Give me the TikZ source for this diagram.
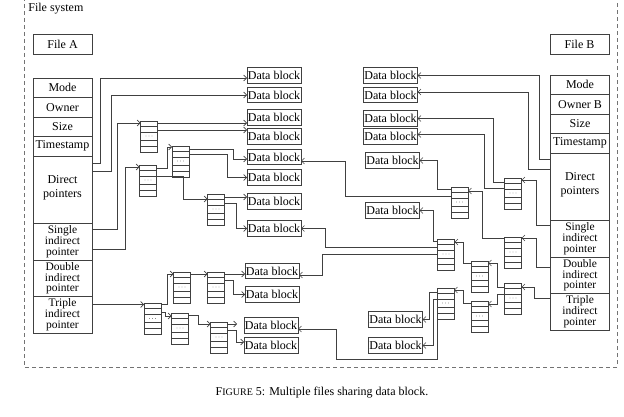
\documentclass[tikz,border=0pt]{standalone}
\usepackage{fontspec}
\setmainfont{Liberation Serif}
\usetikzlibrary{arrows.meta, positioning}

\begin{document}
\begin{tikzpicture}[
        x=1pt, y=-1pt,
        font=\fontsize{12}{12}\selectfont,
        every node/.style={outer sep=0pt},
        field/.style={
            rectangle,
            draw=black!75,
            line width=0.8pt,
            minimum width=59pt,
            minimum height=19.5pt,
            inner sep=1pt,
            align=center
        },
        tight/.style={
            font=\fontsize{11.5}{10.9}\selectfont
        },
        filebox/.style={
            rectangle,
            draw=black!75,
            line width=0.8pt,
            minimum width=59pt,
            minimum height=20pt
        },
        dblock/.style={
            rectangle,
            draw=black!75,
            line width=0.7pt,
            minimum width=54pt,
            minimum height=15.5pt,
            inner sep=0.5pt
        },
        ptrblk/.style={
            rectangle,
            draw=black!75,
            line width=0.7pt,
            minimum width=17pt,
            minimum height=31pt,
            inner sep=0pt,
            path picture={
                \foreach \d in {5,11,19,25}
                    \draw[black!75, line width=0.6pt]
                        ([yshift=-\d pt]path picture bounding box.north west) --
                        ([yshift=-\d pt]path picture bounding box.north east);
                \foreach \i in {-3,0,3}
                    \fill[black!70] ([xshift=\i pt, yshift=-15pt]path picture bounding box.north) circle (0.45pt);
            }
        },
        link/.style={
            draw=black!75,
            line width=0.6pt,
            -{Straight Barb[length=3pt, width=6pt]}
        },
        frame/.style={
            draw=black!55,
            line width=0.7pt,
            dash pattern=on 4pt off 3pt
        }
    ]
    \useasboundingbox (0,0) rectangle (624,417);

    % Frame
    \draw[frame] (24,-3) -- (24,367) -- (617,367) -- (617,-3);
    \node (fs) [anchor=west] at (25,9) {File system};

    % File A
    \node (filea) [filebox] at (62.5,44) {File A};
    \node (amode) [field] at (62.5,87.75) {Mode};
    \node (aowner) [field, below=0pt of amode] {Owner};
    \node (asize) [field, below=0pt of aowner] {Size};
    \node (atime) [field, below=0pt of asize] {Timestamp};
    \node (adirect) [field, minimum height=67.5pt, font=\fontsize{12}{14}\selectfont, below=0pt of atime] {Direct\\pointers\\[-8pt]};
    \node (asingle) [field, tight, minimum height=36.5pt, below=0pt of adirect] {Single\\indirect\\pointer};
    \node (adouble) [field, tight, minimum height=36.5pt, below=0pt of asingle] {Double\\indirect\\pointer};
    \node (atriple) [field, tight, minimum height=36.5pt, below=0pt of adouble] {Triple\\indirect\\pointer};

    % File B
    \node (fileb) [filebox] at (579.5,44) {File B};
    \node (bmode) [field] at (580,84.75) {Mode};
    \node (bowner) [field, below=0pt of bmode] {Owner B};
    \node (bsize) [field, below=0pt of bowner] {Size};
    \node (btime) [field, below=0pt of bsize] {Timestamp};
    \node (bdirect) [field, minimum height=67.5pt, font=\fontsize{12}{14}\selectfont, below=0pt of btime] {Direct\\pointers\\[-8pt]};
    \node (bsingle) [field, tight, minimum height=36.5pt, below=0pt of bdirect] {Single\\indirect\\pointer};
    \node (bdouble) [field, tight, minimum height=36.5pt, below=0pt of bsingle] {Double\\indirect\\pointer};
    \node (btriple) [field, tight, minimum height=36.5pt, below=0pt of bdouble] {Triple\\indirect\\pointer};

    % Data blocks, left
    \node (dba1) [dblock] at (274,75.5) {Data block};
    \node (dba2) [dblock] at (274,95) {Data block};
    \node (dba3) [dblock] at (274,117.5) {Data block};
    \node (dba4) [dblock] at (274,136.5) {Data block};
    \node (dba5) [dblock] at (274,157) {Data block};
    \node (dba6) [dblock] at (274,177.5) {Data block};
    \node (dba7) [dblock] at (274,201.5) {Data block};
    \node (dba8) [dblock] at (274,228.5) {Data block};
    \node (dba9) [dblock] at (272,271) {Data block};
    \node (dba10) [dblock] at (272,294.5) {Data block};
    \node (dba11) [dblock] at (271,325.5) {Data block};
    \node (dba12) [dblock] at (271,345.5) {Data block};

    % Data blocks, right
    \node (dbb1) [dblock] at (390.5,75.5) {Data block};
    \node (dbb2) [dblock] at (390.5,95) {Data block};
    \node (dbb3) [dblock] at (390.5,118.5) {Data block};
    \node (dbb4) [dblock] at (390.5,136.5) {Data block};
    \node (dbb5) [dblock] at (392.5,160.5) {Data block};
    \node (dbb6) [dblock] at (392.5,210.5) {Data block};
    \node (dbb7) [dblock] at (395.5,319.5) {Data block};
    \node (dbb8) [dblock] at (395.5,345.5) {Data block};

    % Pointer blocks, left
    \node (pa1) [ptrblk] at (149,136.5) {};
    \node (pa2) [ptrblk] at (148,180.5) {};
    \node (pa3) [ptrblk] at (180.5,161.5) {};
    \node (pa4) [ptrblk] at (216,209.5) {};
    \node (qa1) [ptrblk] at (152.5,319) {};
    \node (qa2) [ptrblk] at (182,287.5) {};
    \node (qa3) [ptrblk] at (180,328.5) {};
    \node (qa4) [ptrblk] at (216,287.5) {};
    \node (qa5) [ptrblk] at (219,337.5) {};

    % Pointer blocks, right
    \node (pb1) [ptrblk] at (513,193.5) {};
    \node (pb2) [ptrblk] at (459.5,202.5) {};
    \node (pb3) [ptrblk] at (513,252.5) {};
    \node (pb4) [ptrblk] at (446,254.5) {};
    \node (pb5) [ptrblk] at (479.5,276.5) {};
    \node (pb6) [ptrblk] at (513,298.5) {};
    \node (pb7) [ptrblk] at (479.5,316.5) {};
    \node (pb8) [ptrblk] at (445.5,303.5) {};

    % Arrows, file A
    \draw[link] ([yshift=-7pt]adirect.north east) -- ++(8,0) |- ([yshift=-2.5pt]dba1.west);
    \draw[link] ([yshift=-15pt]adirect.north east) -- ++(19,0) |- (dba2.west);
    \draw[link] ([yshift=-6pt]asingle.north east) -- ++(25,0) |- ([yshift=-2pt]pa1.north west);
    \draw[link] ([yshift=-26pt]asingle.north east) -- ++(33,0) |- ([yshift=-2pt]pa2.north west);
    \draw[link] ([yshift=-2pt]pa1.north east) -- ([yshift=-2pt]pa1.north east -| dba3.west);
    \draw[link] ([yshift=-9pt]pa1.north east) -- ([yshift=-9pt]pa1.north east -| dba4.west);
    \draw[link] ([yshift=-3pt]pa2.north east) -- ++(10.5,0) |- ([yshift=-1pt]pa3.north west);
    \draw[link] ([yshift=-11pt]pa2.north east) -- ++(26.5,0) |- ([yshift=-5pt]pa4.north west);
    \draw[link] ([yshift=-3pt]pa3.north east) -- ++(44,0) |- ([yshift=-2pt]dba5.west);
    \draw[link] ([yshift=-8pt]pa3.north east) -- ++(38,0) |- (dba6.west);
    \draw[link] ([yshift=-3pt]pa4.north east) -- ([yshift=-3pt]pa4.north east -| dba7.west);
    \draw[link] ([yshift=-9pt]pa4.north east) -- ++(12,0) |- (dba8.west);
    \draw[link] ([yshift=-8pt]atriple.north east) -- ([yshift=-8pt]atriple.north east -| qa1.west);
    \draw[link] ([yshift=-1pt]qa1.north east) -- ++(6,0) |- ([yshift=-2pt]qa2.north west);
    \draw[link] ([yshift=-9pt]qa1.north east) -- ++(4,0) |- ([yshift=-3pt]qa3.north west);
    \draw[link] ([yshift=-2pt]qa2.north east) -- ([yshift=-2pt]qa2.north east -| qa4.west);
    \draw[link] ([yshift=-2pt]qa4.north east) -- ([yshift=-2pt]qa4.north east -| dba9.west);
    \draw[link] ([yshift=-8pt]qa4.north east) -- ++(9,0) |- (dba10.west);
    \draw[link] ([yshift=-2pt]qa3.north east) -- ++(10,0) |- ([yshift=-2pt]qa5.north west);
    \draw[link, shorten >=7pt] ([yshift=-2pt]qa5.north east) -- ([yshift=-2pt]qa5.north east -| dba11.west);
    \draw[link] ([yshift=-8pt]qa5.north east) -- ++(9,0) |- ([yshift=3.5pt]dba12.west);

    % Arrows, file B
    \draw[link] ([yshift=-6pt]bdirect.north west) -- ++(-11,0) |- (dbb1.east);
    \draw[link] ([yshift=-16pt]bdirect.north west) -- ++(-22,0) |- ([yshift=3pt]dbb2.east);
    \draw[link] ([yshift=-5pt]bsingle.north west) -- ++(-14,0) |- ([yshift=-2pt]pb1.north east);
    \draw[link] ([yshift=-4pt]pb1.north west) -- ++(-11,0) |- (dbb3.east);
    \draw[link] ([yshift=-10pt]pb1.north west) -- ++(-20,0) |- ([yshift=2pt]dbb4.east);
    \draw[link] ([yshift=-10pt]bdouble.north west) -- ++(-14,0) |- ([yshift=-1pt]pb3.north east);
    \draw[link] ([yshift=-1pt]pb3.north west) -- ++(-22,0) |- ([yshift=-4pt]pb2.north east);
    \draw[link] ([yshift=-2pt]pb2.north west) -- ++(-14,0) |- (dbb5.east);
    \draw[link] ([yshift=-9pt]pb2.north west) -- ++(-106,0) |- ([yshift=-4pt]dba5.east);
    \draw[link] ([yshift=-5pt]btriple.north west) -- ++(-16,0) |- ([yshift=-4pt]pb6.north east);
    \draw[link] ([yshift=-4pt]pb6.north west) -- ++(-7,0) |- ([yshift=-2pt]pb5.north east);
    \draw[link] ([yshift=-11pt]pb6.north west) -- ++(-7,0) |- ([yshift=-3pt]pb7.north east);
    \draw[link] ([yshift=-2pt]pb5.north west) -- ++(-8,0) |- ([yshift=-3pt]pb4.north east);
    \draw[link] ([yshift=-2pt]pb7.north west) -- ++(-8,0) |- ([yshift=-2pt]pb8.north east);
    \draw[link] ([yshift=-2pt]pb4.north west) -- ++(-4.5,0) |- (dbb6.east);
    \draw[link] ([yshift=-8pt]pb4.north west) -- ++(-112.5,0) |- (dba8.east);
    \draw[link] ([yshift=-15pt]pb4.north west) -- ++(-115.5,0) |- ([yshift=-4pt]dba9.east);
    \draw[link] ([yshift=-4pt]pb8.north west) -- ++(-8,0) |- (dbb7.east);
    \draw[link] ([yshift=-11pt]pb8.north west) -- ++(-4,0) |- (dbb8.east);
    \draw[link] (pb8.south west) -- ++(0,40) -- ++(-101,0) |- ([yshift=-3.5pt]dba11.east);

    % Caption
    \node (caption) at (322,393) {F{\fontsize{10}{10}\selectfont IGURE} 5: Multiple files sharing data block.};
\end{tikzpicture}
\end{document}
